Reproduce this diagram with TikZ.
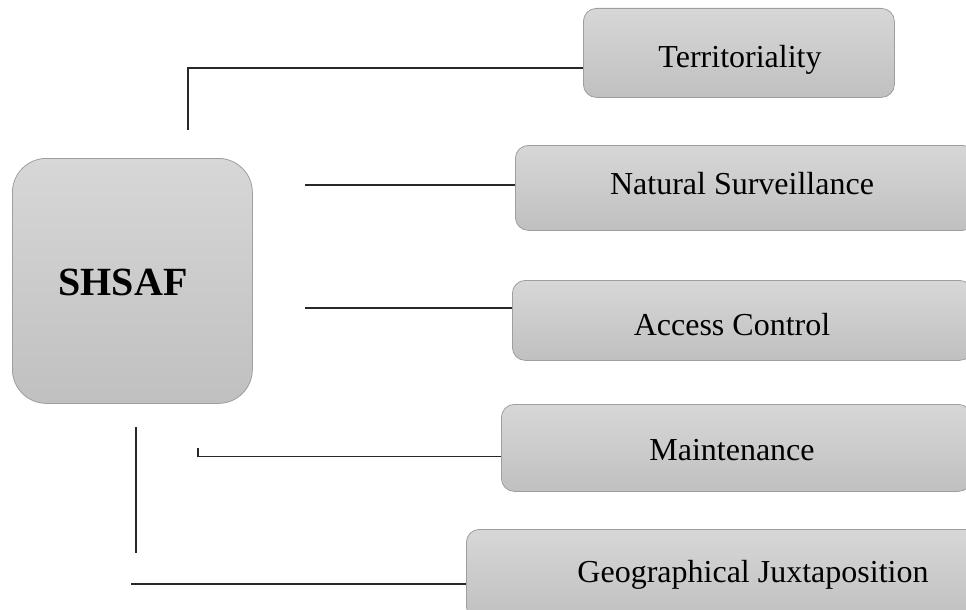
\documentclass[tikz,border=0pt]{standalone}
\usepackage{fontspec}
\setmainfont{Liberation Serif}
\usepackage{tikz}
\usetikzlibrary{positioning}
\definecolor{boxtop}{RGB}{215,215,215}
\definecolor{boxbot}{RGB}{192,192,192}
\definecolor{boxline}{RGB}{158,158,158}
\definecolor{linkgray}{RGB}{40,40,40}
\tikzstyle{pillar} = [draw=boxline, line width=0.8pt, top color=boxtop, bottom color=boxbot, rounded corners=13pt, anchor=north west, inner sep=0pt]
\tikzstyle{hub} = [pillar, rounded corners=34pt]
\tikzstyle{caption} = [anchor=base, inner sep=0pt, font=\fontsize{32}{36}\selectfont]
\tikzstyle{link} = [draw=linkgray, line width=1.3pt]

\begin{document}
\begin{tikzpicture}[x=1pt, y=-1pt]
			\useasboundingbox (0,0) rectangle (966,610);
			% the centre block
			\node[hub, minimum width=240pt, minimum height=245pt] (shsaf) at (12,158) {};
			\node[caption, font=\fontsize{40}{44}\selectfont\bfseries] (shsaftext) at (123,295) {SHSAF};
			% the five principles
			\node[pillar, minimum width=311pt, minimum height=89pt] (terr) at (583,8) {};
			\node[caption] (terrtext) at (740,67) {Territoriality};
			\node[pillar, minimum width=460pt, minimum height=85pt] (ns) at (515,145) {};
			\node[caption] (nstext) at (742,194) {Natural Surveillance};
			\node[pillar, minimum width=460pt, minimum height=80pt] (ac) at (512,280) {};
			\node[caption] (actext) at (732,335) {Access Control};
			\node[pillar, minimum width=470pt, minimum height=87pt] (mt) at (501,404) {};
			\node[caption] (mttext) at (732,460) {Maintenance};
			\node[pillar, minimum width=570pt, minimum height=90pt] (gj) at (466,529) {};
			\node[caption] (gjtext) at (753,582) {Geographical Juxtaposition};
			% loose ends of the connectors
			\coordinate (t0) at (188,130);
			\coordinate (n0) at (305,185);
			\coordinate (a0) at (305,308);
			\coordinate (m0) at (198,448);
			\coordinate (v0) at (136,427);
			\coordinate (v1) at (136,553);
			\coordinate (g0) at (131,584);
			\draw[link] (t0) |- ([yshift=-15pt]terr.west);
			\draw[link] (n0) -- (n0 -| ns.west);
			\draw[link] (a0) -- (a0 -| ac.west);
			\draw[link] (m0) |- ([yshift=-8.5pt]mt.west);
			\draw[link] (v0) -- (v1);
			\draw[link] (g0) -- (g0 -| gj.west);
		\end{tikzpicture}
\end{document}
